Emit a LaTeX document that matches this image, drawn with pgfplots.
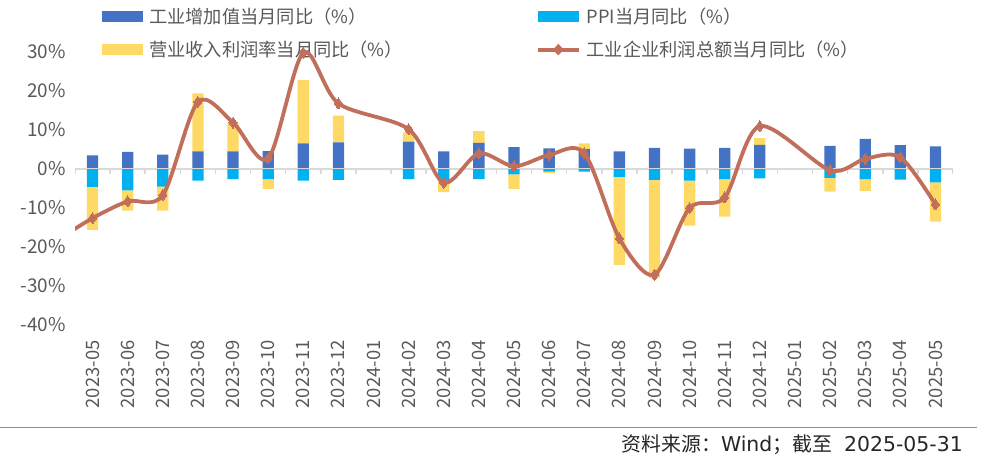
\documentclass[border=0pt]{standalone}
\usepackage{pgfplots}
\usepackage{pgfplotstable}
\pgfplotsset{compat=1.18}
\usepackage{fontspec}
\setmainfont{Noto Sans CJK SC}
\newfontfamily\lat{DejaVu Sans}
\definecolor{cva}{HTML}{4472C4}
\definecolor{cppi}{HTML}{00B0F0}
\definecolor{cmar}{HTML}{FFD966}
\definecolor{cline}{HTML}{C16E5A}
\definecolor{czero}{HTML}{D9D9D9}
\definecolor{ctxt}{HTML}{595959}
\definecolor{csrc}{HTML}{5B9BD5}

% x, value added, PPI, margin (positive part), margin (negative part)
\pgfplotstableread{
x va ppi mpos mneg
0 3.5 -4.6 0 -11.0
1 4.4 -5.5 0 -5.2
2 3.7 -4.5 0 -6.2
3 4.5 -3.0 14.9 0
4 4.5 -2.6 7.3 0
5 4.6 -2.6 0 -2.5
6 6.6 -3.0 16.2 0
7 6.8 -2.8 6.9 0
9 7.0 -2.6 2.4 0
10 4.5 -3.0 0 -2.9
11 6.7 -2.6 3.0 0
12 5.6 -1.4 0 -3.7
13 5.3 -0.7 0 -0.3
14 5.1 -0.7 1.5 0
15 4.5 -2.0 0 -22.6
16 5.4 -2.8 0 -25.2
17 5.2 -3.0 0 -11.5
18 5.4 -2.6 0 -9.6
19 6.2 -2.4 1.7 0
21 5.9 -2.3 0 -3.5
22 7.7 -2.6 0 -3.0
23 6.1 -2.7 0 0
24 5.8 -3.4 0 -10.1
}\bars

\pgfplotstableread{
x profit
-1 -18.2
0 -12.6
1 -8.3
2 -6.7
3 17.2
4 11.9
5 2.7
6 29.8
7 16.8
9 10.2
10 -3.5
11 4.0
12 0.7
13 3.6
14 4.1
15 -17.8
16 -27.1
17 -10.0
18 -7.3
19 11.0
21 -0.3
22 2.6
23 3.0
24 -9.1
}\profit

\pgfplotsset{
  base/.style={
    scale only axis, width=878bp, height=280.8bp,
    xmin=-0.5, xmax=24.5, ymin=-40, ymax=32,
    at={(75bp,137bp)}, anchor=south west,
    ybar stacked, bar width=11.3bp,
  },
}

\begin{document}
\begin{tikzpicture}
\path[use as bounding box] (0bp,0bp) rectangle (984bp,462bp);

% positive stack
\begin{axis}[base,
  axis line style={draw=none},
  major tick length=0pt,
  xtick={0,...,24},
  xticklabels={2023-05,2023-06,2023-07,2023-08,2023-09,2023-10,2023-11,2023-12,2024-01,2024-02,2024-03,2024-04,2024-05,2024-06,2024-07,2024-08,2024-09,2024-10,2024-11,2024-12,2025-01,2025-02,2025-03,2025-04,2025-05},
  xticklabel style={rotate=90, anchor=east, font=\fontsize{18.5}{20}\selectfont, text=ctxt},
  xticklabel shift=12bp,
  ytick={-40,-30,-20,-10,0,10,20,30},
  yticklabels={-40\%,-30\%,-20\%,-10\%,0\%,10\%,20\%,30\%},
  yticklabel style={font=\fontsize{19}{21}\selectfont, text=ctxt},
  yticklabel shift=6bp,
]
\draw[czero, line width=2bp] (axis cs:-0.5,0) -- (axis cs:24.5,0);
\pgfplotsinvokeforeach{-0.5,0.5,...,24.5}{\draw[czero, line width=1.5bp] (axis cs:#1,0) -- ++(0bp,-5bp);}
\addplot[fill=cva, draw=none] table[x=x, y=va] {\bars};
\addplot[fill=cmar, draw=none] table[x=x, y=mpos] {\bars};
\end{axis}

% negative stack and legend
\begin{axis}[base, hide axis,
  legend columns=2,
  legend style={at={(0.0273,1.1439)}, anchor=north west, draw=none, fill=none,
    font=\fontsize{18.3}{20}\selectfont, text=ctxt,
    row sep=12bp,
    /tikz/every odd column/.append style={column sep=4bp},
    /tikz/every even column/.append style={column sep=131bp}},
  legend cell align=left,
]
\addlegendimage{fill=cva, draw=none, legend image code/.code={\fill[cva] (0bp,-5.6bp) rectangle (41bp,5.6bp);}}
\addlegendentry{工业增加值当月同比（\%）}
\addlegendimage{fill=cppi, draw=none, legend image code/.code={\fill[cppi] (0bp,-5.6bp) rectangle (41bp,5.6bp);}}
\addlegendentry{PPI当月同比（\%）}
\addlegendimage{fill=cmar, draw=none, legend image code/.code={\fill[cmar] (0bp,-5.6bp) rectangle (41bp,5.6bp);}}
\addlegendentry{营业收入利润率当月同比（\%）}
\addlegendimage{legend image code/.code={\draw[cline, line width=3.8bp] (0bp,0bp) -- (41bp,0bp); \fill[cline] (20.5bp,5.5bp) -- (25.5bp,0bp) -- (20.5bp,-5.5bp) -- (15.5bp,0bp) -- cycle;}}
\addlegendentry{工业企业利润总额当月同比（\%）}

\addplot[fill=cppi, draw=none, forget plot] table[x=x, y=ppi] {\bars};
\addplot[fill=cmar, draw=none, forget plot] table[x=x, y=mneg] {\bars};
\end{axis}

% profit line
\begin{axis}[base, hide axis]
\addplot[sharp plot, smooth, tension=0.5, cline, line width=3.8bp, mark=diamond*, mark size=5.5bp, mark options={fill=cline, line width=0pt}] table[x=x, y=profit] {\profit};
\end{axis}

\draw[csrc, line width=1.3bp] (0bp,34.3bp) -- (977bp,34.3bp);
\node[anchor=east, inner sep=0pt, font=\fontsize{20}{22}\selectfont, text=black!85] at (963bp,17bp) {资料来源：{\lat\fontsize{20.5}{22}\selectfont Wind}；截至\hspace{12bp}{\lat\fontsize{20.5}{22}\selectfont 2025-05-31}};
\end{tikzpicture}
\end{document}
